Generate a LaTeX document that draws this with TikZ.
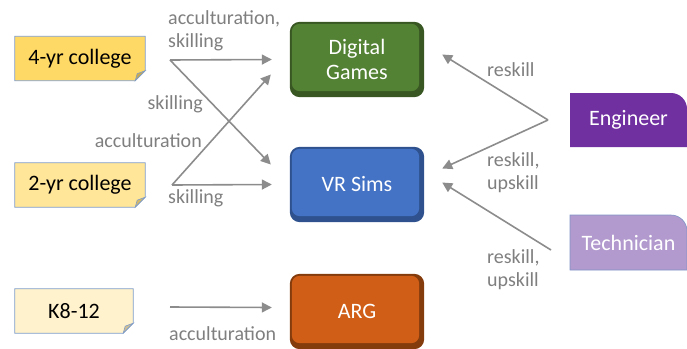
\documentclass[tikz,border=0pt]{standalone}
\usepackage{fontspec}
\setmainfont{Carlito}
\usetikzlibrary{arrows.meta,backgrounds,calc}

\definecolor{noteline}{HTML}{7F9CC8}
\definecolor{linkgray}{HTML}{8C8C8C}
\definecolor{labgray}{HTML}{7F7F7F}
\definecolor{engfill}{HTML}{7030A0}
\definecolor{techfill}{HTML}{B29ACE}
\definecolor{techline}{HTML}{7E94C4}

\tikzset{
  note/.style={minimum width=#1, minimum height=44pt, inner sep=0pt,
    font=\fontsize{22}{25}\selectfont},
  tile/.style={minimum width=134pt, minimum height=75pt, inner sep=0pt,
    text=white, align=center, font=\fontsize{22}{25}\selectfont},
  role/.style={inner sep=0pt, text=white, font=\fontsize{22}{25}\selectfont},
  flow/.style={draw=linkgray, line width=1.6pt,
    -{Triangle[length=10pt,width=10pt]}},
  lab/.style={text=labgray, align=left, inner sep=0pt,
    font=\fontsize{20}{23}\selectfont},
}

\begin{document}
\begin{tikzpicture}[x=1pt,y=-1pt]
    \useasboundingbox (0,0) rectangle (687,348);

    % learner groups
    \node[note=130pt] (fouryr) at (80,58.5) {4-yr college};
    \node[note=130pt] (twoyr) at (80,185) {2-yr college};
    \node[note=118pt] (keight) at (74,311) {K8-12};

    % training formats
    \node[tile] (games) at (357,59.5) {Digital\\Games};
    \node[tile] (vr) at (357,184.5) {VR Sims};
    \node[tile] (arg) at (357,311.5) {ARG};

    \begin{scope}[on background layer]
        \foreach \n/\body/\fold in {fouryr/FFD966/C9AA4F, twoyr/FFE699/D2B86A, keight/FFF2CC/CDBF96} {
            \definecolor{bodyc}{HTML}{\body}
            \definecolor{foldc}{HTML}{\fold}
            \draw[noteline, fill=bodyc, line width=0.8pt]
                (\n.north west) -- (\n.north east) -- ([yshift=10pt]\n.south east)
                -- ([xshift=-10pt]\n.south east) -- (\n.south west) -- cycle;
            \draw[noteline, fill=foldc, line width=0.6pt]
                ([yshift=10pt]\n.south east) -- ([xshift=-10pt]\n.south east)
                -- ([xshift=-8pt,yshift=7pt]\n.south east) -- cycle;
        }
        \foreach \n/\face/\rim in {games/548235/385723, vr/4472C4/2F528F, arg/D15E16/843C0C} {
            \definecolor{facec}{HTML}{\face}
            \definecolor{rimc}{HTML}{\rim}
            \fill[rimc, rounded corners=10pt] (\n.north west) rectangle (\n.south east);
            \fill[facec, rounded corners=8pt]
                ([xshift=2pt,yshift=-2pt]\n.north west) rectangle ([xshift=-5pt,yshift=6pt]\n.south east);
        }
    \end{scope}

    % workforce
    \fill[engfill]
        (570,147) -- (570,93) [rounded corners=16pt] -- (687,93) [sharp corners] -- (687,147) -- cycle;
    \node[role] (eng) at (628.5,120) {Engineer};
    \draw[techline, line width=0.6pt, fill=techfill]
        (570,270) -- (570,215) [rounded corners=16pt] -- (687,215) [sharp corners] -- (687,270) -- cycle;
    \node[role] (tech) at (628.5,242.5) {Technician};

    % start points
    \coordinate (f4) at (170,60);
    \coordinate (f2) at (172,185);
    \coordinate (fk) at (170,307);
    \coordinate (fe) at (548,120);
    \coordinate (ft) at (551,250);

    % links
    \draw[flow] (f4) -- ([xshift=-18pt]games.west);
    \draw[flow] (f4) -- ([xshift=-19pt,yshift=20pt]vr.west);
    \draw[flow] (f2) -- ([xshift=-19pt,yshift=-15pt]games.west);
    \draw[flow] (f2) -- ([xshift=-18pt]vr.west);
    \draw[flow] (fk) -- ([xshift=-18pt,yshift=4pt]arg.west);
    \draw[flow] (fe) -- ([xshift=18pt,yshift=5pt]games.east);
    \draw[flow] (fe) -- ([xshift=18pt,yshift=16pt]vr.east);
    \draw[flow] (ft) -- ([xshift=18pt,yshift=2pt]vr.east);

    % link labels
    \node[lab, anchor=west] (l1) at (168,31) {acculturation,\\skilling};
    \node[lab, anchor=east] (l2) at (203,104) {skilling};
    \node[lab, anchor=east] (l3) at (202,141) {acculturation};
    \node[lab, anchor=west] (l4) at (168,198) {skilling};
    \node[lab, anchor=west] (l5) at (169,334) {acculturation};
    \node[lab, anchor=west] (l6) at (487,70) {reskill};
    \node[lab, anchor=west] (l7) at (487,173) {reskill,\\upskill};
    \node[lab, anchor=west] (l8) at (487,270) {reskill,\\upskill};
\end{tikzpicture}
\end{document}
